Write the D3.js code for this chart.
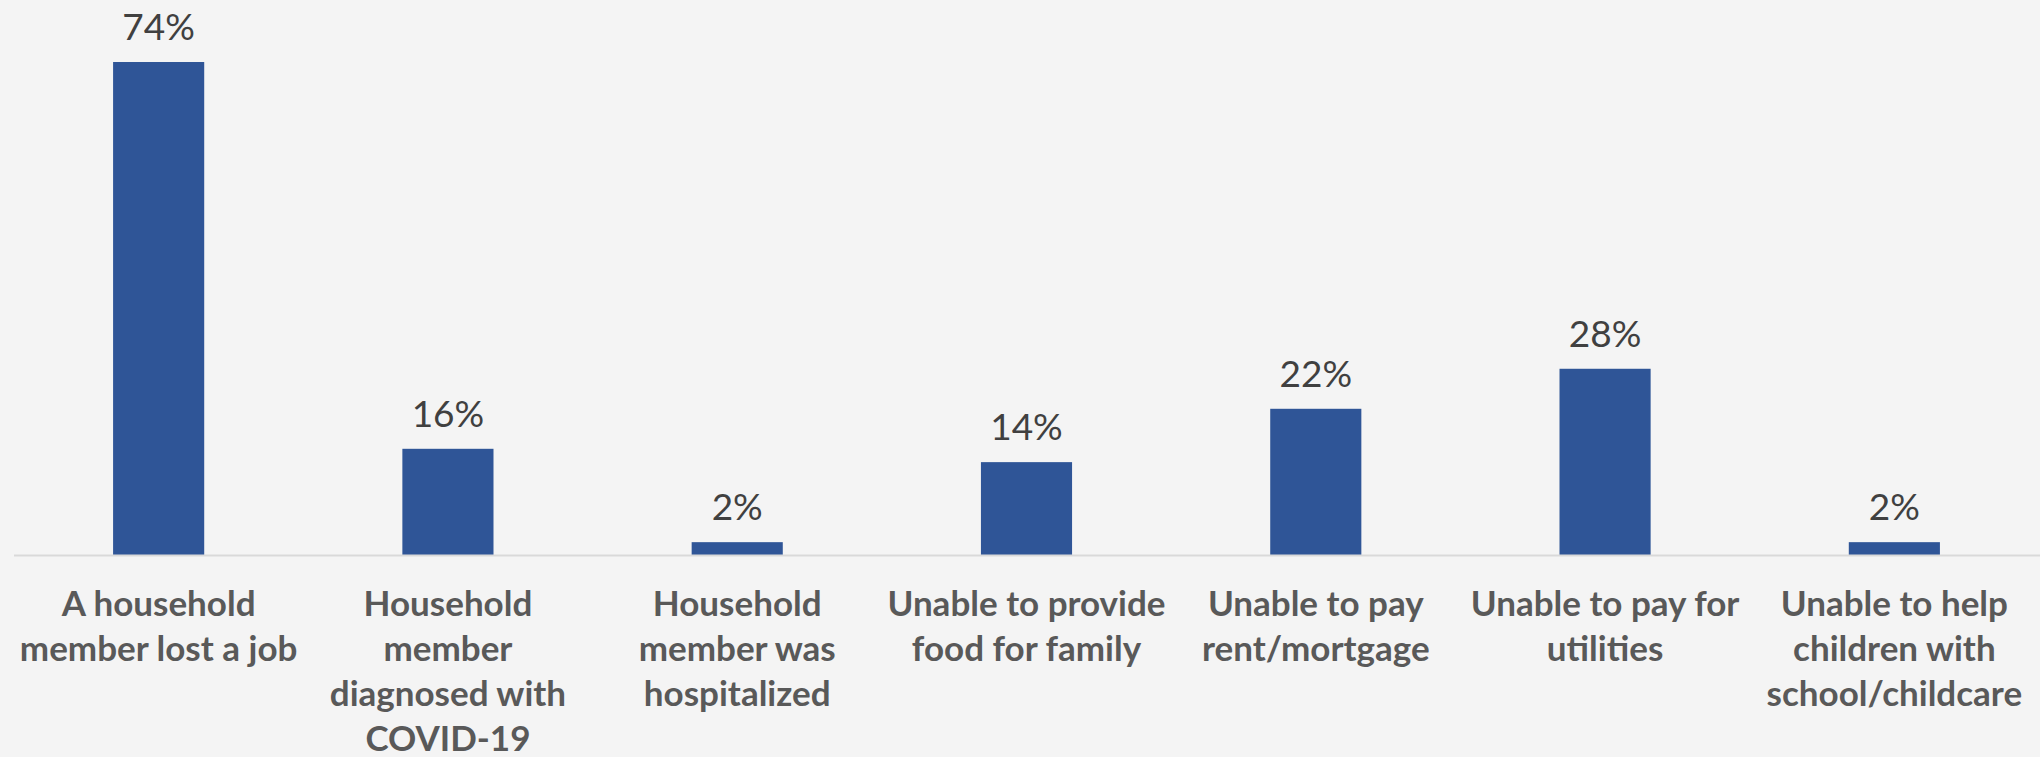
<!DOCTYPE html>
<html>
<head>
<meta charset="utf-8">
<script src="https://cdn.jsdelivr.net/npm/d3@7"></script>
<style>
  html, body { margin: 0; padding: 0; background: #f4f4f4; }
  svg { display: block; }
</style>
</head>
<body>
<script>
// categories, one array of lines per bar (wrapped as in the original)
const categories = [
    ['A household', 'member lost a job'],
    ['Household', 'member', 'diagnosed with', 'COVID-19'],
    ['Household', 'member was', 'hospitalized'],
    ['Unable to provide', 'food for family'],
    ['Unable to pay', 'rent/mortgage'],
    ['Unable to pay for', 'utilities'],
    ['Unable to help', 'children with', 'school/childcare']
]
const values = [74, 16, 2, 14, 22, 28, 2]

const width = 2040
const height = 757
const baseline = 555.5
const plotTop = 22

const svg = d3.select('body').append('svg')
    .attr('width', width)
    .attr('height', height)

svg.append('rect')
    .attr('width', width)
    .attr('height', height)
    .attr('fill', '#f4f4f4')

const x = d3.scaleBand()
    .domain(d3.range(values.length))
    .range([14, 2039])
    .paddingInner(0.685)
    .paddingOuter(0.3425)

const y = d3.scaleLinear()
    .domain([0, 80])
    .range([baseline, plotTop])

// bars
svg.selectAll('rect.bar')
    .data(values)
    .enter()
    .append('rect')
    .attr('class', 'bar')
    .attr('x', (d, i) => x(i))
    .attr('y', d => y(d))
    .attr('width', x.bandwidth())
    .attr('height', d => y(0) - y(d))
    .attr('fill', '#2f5597')

// axis line along the bottom
const axis = svg.append('g')
    .attr('transform', `translate(0,${baseline})`)
    .call(d3.axisBottom(x).tickSize(0).tickFormat(''))
axis.select('.domain')
    .attr('d', `M14,0H${width}`)
    .attr('stroke', '#d9d9d9')
    .attr('stroke-width', 2)

// value labels
svg.selectAll('text.value')
    .data(values)
    .enter()
    .append('text')
    .attr('class', 'value')
    .attr('x', (d, i) => x(i) + x.bandwidth() / 2)
    .attr('y', d => y(d) - 22)
    .attr('text-anchor', 'middle')
    .attr('font-family', 'Lato, sans-serif')
    .attr('font-size', '37px')
    .attr('fill', '#404040')
    .text(d => d + '%')

// category labels
const labels = svg.selectAll('text.cat')
    .data(categories)
    .enter()
    .append('text')
    .attr('class', 'cat')
    .attr('text-anchor', 'middle')
    .attr('font-family', 'Lato, sans-serif')
    .attr('font-weight', 'bold')
    .attr('font-size', '35px')
    .attr('fill', '#595959')

labels.selectAll('tspan')
    .data((d, i) => d.map(line => ({ line, i })))
    .enter()
    .append('tspan')
    .attr('x', d => x(d.i) + x.bandwidth() / 2)
    .attr('y', (d, j) => baseline + 60 + j * 45)
    .text(d => d.line)
</script>
</body>
</html>
